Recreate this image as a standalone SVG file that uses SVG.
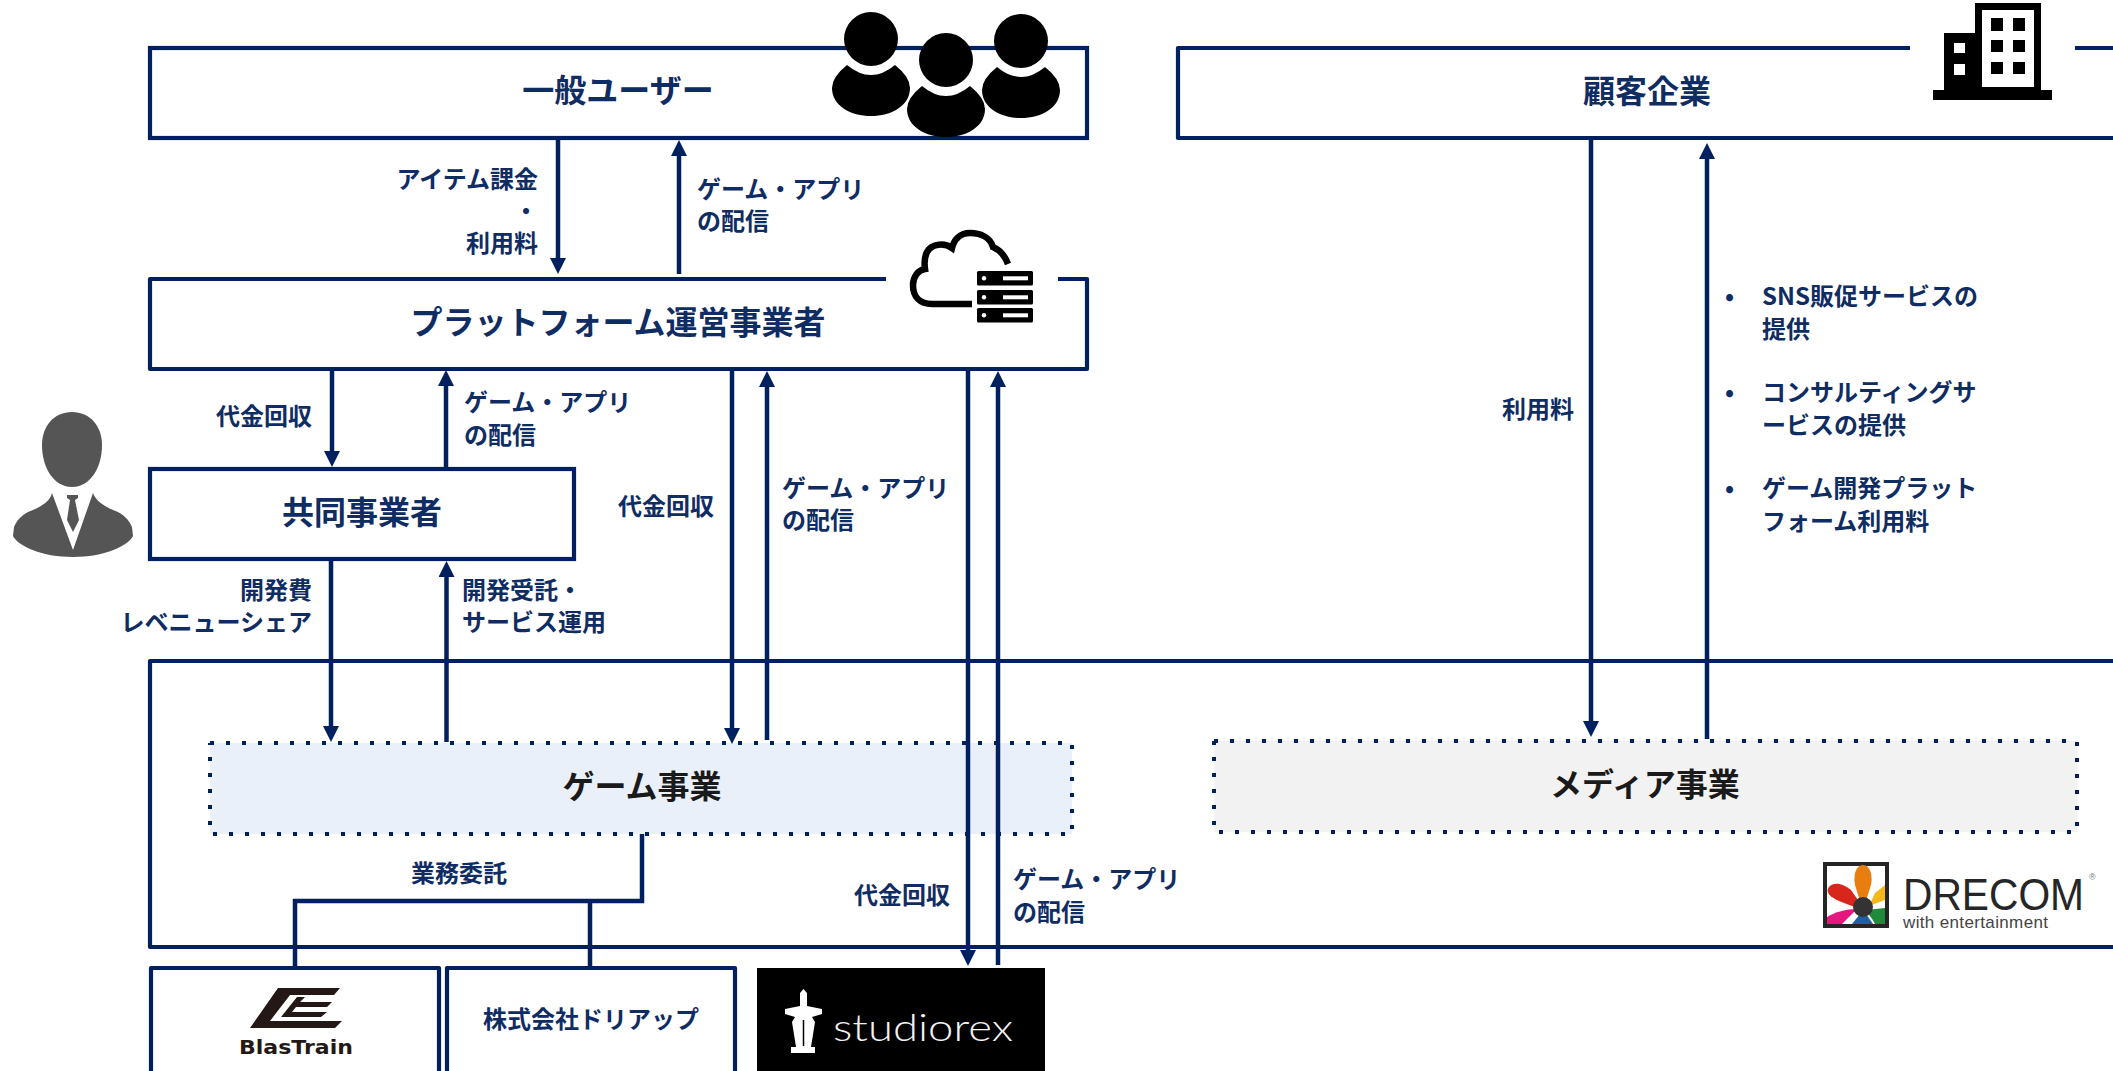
<svg xmlns="http://www.w3.org/2000/svg" width="2113" height="1071" viewBox="0 0 2113 1071">
<style>
text{font-family:"Noto Sans CJK JP","Noto Sans",sans-serif;font-weight:700}
.l{font-size:24px;fill:#0f2c63}
.t{font-size:32px;fill:#0f2c63;text-anchor:middle}
.k{font-size:32px;fill:#1a1a1a;text-anchor:middle}
.b{fill:#fff;stroke:#002060;stroke-width:4.200}
.e{fill:none;stroke:#002060;stroke-width:4.200;stroke-linejoin:round}
.c{fill:none;stroke:#002060;stroke-width:4.500}
.d{stroke:#002060;stroke-width:4;stroke-dasharray:4 12;fill:none}
.s{font-family:"Liberation Sans",sans-serif;font-weight:400}
</style>
<defs>
<marker id="a" markerUnits="userSpaceOnUse" markerWidth="16" markerHeight="16" refX="6" refY="8" orient="auto"><path d="M0 0L16 8L0 16z" fill="#002060"/></marker>
<g id="person"><circle cx="0" cy="27" r="27"/><path d="M-24 53Q0 73 24 53Q39 65 39 76C39 94 20 104 0 104C-20 104 -39 94 -39 76Q-39 65 -24 53z"/></g>
<g id="srv"><rect width="56" height="14.500" rx="1.500" fill="#000"/><circle cx="7" cy="7.250" r="2.200" fill="#fff"/><rect x="26" y="5.300" width="25" height="4" fill="#fff"/></g>
</defs>
<rect width="2113" height="1071" fill="#fff"/>

<g id="user"><rect class="b" x="150" y="48" width="937" height="90"/><text class="t" x="618" y="102">一般ユーザー</text>
<use href="#person" x="871" y="12"/><use href="#person" x="946" y="33"/><use href="#person" x="1021" y="14"/></g>

<g id="client"><path class="e" d="M1910 48H1178V138H2113M2075 48H2113"/><text class="t" x="1647" y="103">顧客企業</text>
<g><path d="M1975 3H2041V90H2052V100H1933V90H1944V33H1975z"/><path fill="#fff" d="M1982 10H2034V87H1982z"/>
<path fill="#fff" d="M1954 43H1965V53H1954zM1954 64H1965V75H1954z"/><path d="M1991 18H2003V31H1991zM2013 18H2025V31H2013zM1991 40H2003V52H1991zM2013 40H2025V52H2013zM1991 62H2003V74H1991zM2013 62H2025V74H2013z"/></g></g>

<g id="platform"><path class="e" d="M886 279H150V369H1087V279H1058"/><text class="t" x="618" y="334">プラットフォーム運営事業者</text>
<path fill="none" stroke="#000" stroke-width="6.500" d="M1008 264C1005 256 1000 250 993 247C990 237 980 233 970 233C960 233 954 240 952 248C945 243 932 243 927 252C925 256 924 262 925 269C918 270 913 277 913 285C913 297 920 304 932 304H972"/>
<use href="#srv" x="977" y="271"/><use href="#srv" x="977" y="290"/><use href="#srv" x="977" y="308"/></g>

<g id="partner"><rect class="b" x="150" y="469" width="424" height="90"/><text class="t" x="362" y="524">共同事業者</text>
<path fill="#555" d="M72 412C90 412 102 426 102 445C102 468 90 487 72 487C54 487 42 468 42 445C42 426 54 412 72 412z"/>
<path fill="#555" d="M52 493C51 500 42 506 33 510C22 514 17 520 14 527L13 536C18 546 42 557 73 557C104 557 128 546 133 536L132 527C129 520 124 514 113 510C104 506 95 500 93 493L73 550z"/>
<path fill="#555" d="M67 495H78V498L75 500L79 520L73 532L67 520L70 500L67 498z"/></g>

<g id="biz"><path class="e" d="M2113 661H150V947H2113"/></g>

<g id="game"><rect x="210" y="743" width="862" height="91" fill="#eaf0f9"/><path class="d" d="M210 743H1072V834H210V743"/><text class="k" x="642" y="798">ゲーム事業</text></g>
<g id="media"><rect x="1214" y="741" width="863" height="91" fill="#f2f2f2"/><path class="d" d="M1214 741H2077V832H1214V741"/><text class="k" x="1645" y="796">メディア事業</text></g>

<g id="blastrain"><path class="e" d="M151 1071V968H439V1071"/>
<path fill="#231815" d="M250 1028L278 988H340L334 995H290L270 1021H342L335 1028z"/>
<path fill="#231815" d="M281 1017H321L327 1012H292L296 1007H327L332 1002H300L305 997H297z"/>
<text x="239" y="1054" font-size="20" fill="#231815" style="font-family:'DejaVu Sans',sans-serif;font-weight:700" textLength="114" lengthAdjust="spacingAndGlyphs">BlasTrain</text></g>

<g id="dreamup"><path class="e" d="M447 1071V968H735V1071"/><text class="l" x="591" y="1028" text-anchor="middle">株式会社ドリアップ</text></g>

<g id="studiorex"><rect x="757" y="968" width="288" height="103" fill="#000"/>
<path fill="#fff" d="M803.500 989L807 993V1006L822 1009V1014L812 1017L815 1022L811 1047H815V1053H791V1047H796L792 1022L795 1017L785 1014V1009L800 1006V993z"/>
<path stroke="#000" stroke-width="1.500" fill="none" d="M803.500 1020V1046"/>
<text x="833" y="1041" font-size="37" fill="#f2f2f2" style="font-family:Lato,sans-serif;font-weight:300" textLength="180" lengthAdjust="spacingAndGlyphs">studiorex</text></g>

<g id="drecom"><rect x="1825" y="864" width="62" height="62" fill="#fff" stroke="#262626" stroke-width="4"/>
<path fill="#e87d10" d="M1863 865C1870 865 1873 875 1871 885L1865 904H1861L1855 885C1853 875 1856 865 1863 865z"/>
<path fill="#d9261c" d="M1829 887C1834 881 1844 884 1851 890L1860 903L1857 908L1839 901C1830 897 1825 892 1829 887z"/>
<path fill="#f5b81c" d="M1885 885V900L1869 906L1875 893z"/><path fill="#1e8a3a" d="M1885 908V924H1875C1872 918 1868 914 1866 910z"/>
<path fill="#e5177e" d="M1827 917C1835 912 1846 909 1857 909L1842 924H1827z"/><path fill="#1f5fa8" d="M1860 914H1866L1873 924H1852z"/>
<circle cx="1863" cy="907" r="10" fill="#333"/>
<text class="s" x="1903" y="910" font-size="44" fill="#262626" textLength="181" lengthAdjust="spacingAndGlyphs">DRECOM</text>
<text class="s" x="2089" y="880" font-size="9" fill="#777">®</text>
<text class="s" x="1903" y="928" font-size="17" fill="#444" textLength="145">with entertainment</text></g>

<g id="connectors">
<path class="c" marker-end="url(#a)" d="M558 138V264"/><path class="c" marker-end="url(#a)" d="M679 274V150"/>
<path class="c" marker-end="url(#a)" d="M332 369V457"/><path class="c" marker-end="url(#a)" d="M446 467V380"/>
<path class="c" marker-end="url(#a)" d="M331 559V732"/><path class="c" marker-end="url(#a)" d="M446.500 742V571"/>
<path class="c" marker-end="url(#a)" d="M732 369V734"/><path class="c" marker-end="url(#a)" d="M767 740V381"/>
<path class="c" marker-end="url(#a)" d="M968 369V956"/><path class="c" marker-end="url(#a)" d="M998 965V381"/>
<path class="c" marker-end="url(#a)" d="M1591 138V727"/><path class="c" marker-end="url(#a)" d="M1707 739V153"/>
<path class="c" d="M642 834V901H295V968M590 901V968"/>
</g>

<g id="labels">
<text class="l" x="538" y="188" text-anchor="end">アイテム課金</text><text class="l" x="538" y="220" text-anchor="end">・</text><text class="l" x="538" y="252" text-anchor="end">利用料</text>
<text class="l" x="697" y="198">ゲーム・アプリ</text><text class="l" x="697" y="230">の配信</text>
<text class="l" x="312" y="425" text-anchor="end">代金回収</text>
<text class="l" x="464" y="411">ゲーム・アプリ</text><text class="l" x="464" y="444">の配信</text>
<text class="l" x="618" y="515">代金回収</text>
<text class="l" x="782" y="497">ゲーム・アプリ</text><text class="l" x="782" y="529">の配信</text>
<text class="l" x="312" y="599" text-anchor="end">開発費</text><text class="l" x="312" y="631" text-anchor="end">レベニューシェア</text>
<text class="l" x="462" y="599">開発受託・</text><text class="l" x="462" y="631">サービス運用</text>
<text class="l" x="459" y="882" text-anchor="middle">業務委託</text>
<text class="l" x="854" y="904">代金回収</text>
<text class="l" x="1013" y="888">ゲーム・アプリ</text><text class="l" x="1013" y="921">の配信</text>
<text class="l" x="1502" y="418">利用料</text>
<text class="l" x="1725" y="305">•</text><text class="l" x="1762" y="305">SNS販促サービスの</text><text class="l" x="1762" y="338">提供</text>
<text class="l" x="1725" y="401">•</text><text class="l" x="1762" y="401">コンサルティングサ</text><text class="l" x="1762" y="434">ービスの提供</text>
<text class="l" x="1725" y="497">•</text><text class="l" x="1762" y="497">ゲーム開発プラット</text><text class="l" x="1762" y="530">フォーム利用料</text>
</g>
</svg>
